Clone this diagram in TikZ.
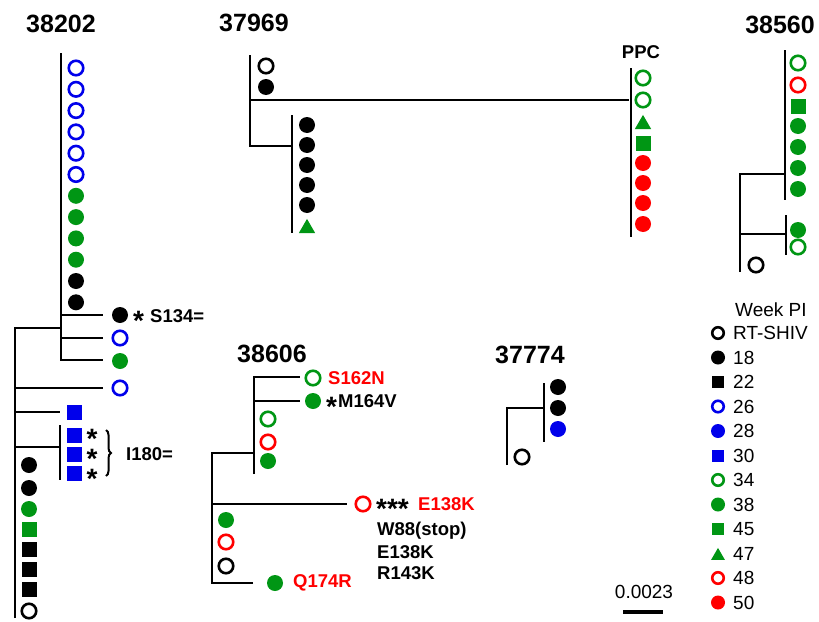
\documentclass[tikz,border=0pt]{standalone}
\usepackage{fontspec}
\setmainfont{Liberation Sans}
\usetikzlibrary{shapes.geometric, decorations.pathreplacing}

\definecolor{symblue}{RGB}{0,0,235}
\definecolor{symgreen}{RGB}{0,150,20}
\definecolor{symred}{RGB}{255,0,0}

\begin{document}
\begin{tikzpicture}[
    x=1pt, y=-1pt,
    every node/.style={inner sep=0pt},
    title/.style={font=\bfseries\fontsize{25}{25}\selectfont},
    mut/.style={anchor=west, font=\bfseries\fontsize{18.5}{20}\selectfont},
    legtext/.style={anchor=west, font=\fontsize{19}{20}\selectfont},
    star/.style={anchor=base west, font=\bfseries\fontsize{28}{19}\selectfont},
    branch/.style={line width=2.4pt},
    oc/.style={circle, draw=#1, line width=2.6pt, minimum size=14.5pt},
    fc/.style={circle, fill=#1, minimum size=16pt},
    fs/.style={rectangle, fill=#1, minimum size=15pt},
    ft/.style={regular polygon, regular polygon sides=3, fill=#1, minimum size=19pt, yshift=-2.4pt}
]
\useasboundingbox (0,0) rectangle (819,621);

% Tree 38202
\node[title] (t38202) at (61,24) {38202};
\draw[branch] (61,53) -- (61,360) -- (103,360);
\draw[branch] (61,315) -- (103,315);
\draw[branch] (61,338) -- (103,338);
\draw[branch] (15,618) -- (15,328) -- (61,328);
\draw[branch] (15,388) -- (103,388);
\draw[branch] (15,412) -- (60,412);
\draw[branch] (15,447) -- (60,447);
\draw[branch] (60,425) -- (60,480);
\foreach \i in {0,...,5} \node[oc=symblue] (a\i) at (76,{68+21.3*\i}) {};
\foreach \i in {6,...,9} \node[fc=symgreen] (a\i) at (76,{68+21.3*\i}) {};
\foreach \i in {10,11} \node[fc=black] (a\i) at (76,{68+21.3*\i}) {};
\node[fc=black] (b1) at (120,315) {};
\node[oc=symblue] (b2) at (120,338) {};
\node[fc=symgreen] (b3) at (120,361) {};
\node[oc=symblue] (b4) at (120,388) {};
\node[star] (b1star) at (133,330) {*};
\node[mut] (b1lab) at (150,316) {S134=};
\node[fs=symblue] (c0) at (74,412) {};
\foreach \y [count=\i] in {435,454,473} \node[fs=symblue] (c\i) at (74,\y) {};
\node[star, align=center, anchor=center] (cstars) at (92,459) {*\\*\\*};
\draw[decorate, decoration={brace, amplitude=5pt}, line width=2pt] (106,430) -- (106,476);
\node[mut] (clab) at (126,454) {I180=};
\node[fc=black] (d0) at (29,465) {};
\node[fc=black] (d1) at (29,488) {};
\node[fc=symgreen] (d2) at (29,509) {};
\node[fs=symgreen] (d3) at (29,529) {};
\foreach \y [count=\i from 4] in {549,569,589} \node[fs=black] (d\i) at (29,\y) {};
\node[oc=black] (d7) at (29,611) {};

% Tree 37969
\node[title] (t37969) at (254,23) {37969};
\draw[branch] (250,55) -- (250,146) -- (292,146);
\draw[branch] (250,100) -- (629,100);
\draw[branch] (292,115) -- (292,233);
\draw[branch] (631,68) -- (631,237);
\node[oc=black] (e0) at (266,66) {};
\node[fc=black] (e1) at (266,87) {};
\foreach \i in {0,...,4} \node[fc=black] (f\i) at (307,{125+20*\i}) {};
\node[ft=symgreen] (f5) at (307,226) {};
\node[mut, anchor=center] (ppc) at (641,52) {PPC};
\node[oc=symgreen] (g0) at (643,78) {};
\node[oc=symgreen] (g1) at (643,100) {};
\node[ft=symgreen] (g2) at (643,122) {};
\node[fs=symgreen] (g3) at (643,143) {};
\foreach \y [count=\i from 4] in {163,183,203,224} \node[fc=symred] (g\i) at (643,\y) {};

% Tree 38560
\node[title] (t38560) at (780,25) {38560};
\draw[branch] (785,50) -- (785,200);
\draw[branch] (740,272) -- (740,174) -- (785,174);
\draw[branch] (740,234) -- (786,234);
\draw[branch] (786,215) -- (786,255);
\node[oc=symgreen] (h0) at (798,63) {};
\node[oc=symred] (h1) at (798,85) {};
\node[fs=symgreen] (h2) at (798,106) {};
\foreach \y [count=\i from 3] in {126,147,168,189} \node[fc=symgreen] (h\i) at (798,\y) {};
\node[fc=symgreen] (h7) at (798,230) {};
\node[oc=symgreen] (h8) at (798,247) {};
\node[oc=black] (h9) at (756,265) {};

% Tree 38606
\node[title] (t38606) at (272,354) {38606};
\draw[branch] (253,583) -- (212,583) -- (212,453) -- (254,453);
\draw[branch] (254,474) -- (254,377) -- (300,377);
\draw[branch] (254,401) -- (300,401);
\draw[branch] (212,504) -- (347,504);
\node[oc=symgreen] (k0) at (313,378) {};
\node[mut, symred] (k0lab) at (328,378) {S162N};
\node[fc=symgreen] (k1) at (313,401) {};
\node[star] (k1star) at (326,416) {*};
\node[mut] (k1lab) at (338,401) {M164V};
\node[oc=symgreen] (k2) at (268,419) {};
\node[oc=symred] (k3) at (268,442) {};
\node[fc=symgreen] (k4) at (268,461) {};
\node[oc=symred] (k5) at (363,504) {};
\node[star] (k5star) at (376,518) {***};
\node[mut, symred] (k5lab) at (418,504) {E138K};
\node[mut] (k5a) at (377,531) {W88(stop)};
\node[mut] (k5b) at (377,552) {E138K};
\node[mut] (k5c) at (377,573) {R143K};
\node[fc=symgreen] (k6) at (226,520) {};
\node[oc=symred] (k7) at (226,542) {};
\node[oc=black] (k8) at (226,566) {};
\node[fc=symgreen] (k9) at (275,583) {};
\node[mut, symred] (k9lab) at (293,583) {Q174R};

% Tree 37774
\node[title] (t37774) at (530,355) {37774};
\draw[branch] (544,383) -- (544,442);
\draw[branch] (507,465) -- (507,408) -- (544,408);
\node[fc=black] (m0) at (558,387) {};
\node[fc=black] (m1) at (558,408) {};
\node[fc=symblue] (m2) at (558,429) {};
\node[oc=black] (m3) at (522,457) {};

% Legend
\node[legtext] (legtitle) at (735,310) {Week PI};
\foreach \st/\c/\sz/\t [count=\i from 0] in {
    oc/black/11.5/RT-SHIV, fc/black/14/18, fs/black/12/22,
    oc/symblue/11.5/26, fc/symblue/14/28, fs/symblue/12/30,
    oc/symgreen/11.5/34, fc/symgreen/14/38, fs/symgreen/12/45,
    ft/symgreen/16/47, oc/symred/11.5/48, fc/symred/14/50} {
  \node[\st=\c, minimum size=\sz pt] (leg\i) at (718,{333+24.5*\i}) {};
  \node[legtext] (legl\i) at (733,{333+24.5*\i}) {\t};
}

% Scale bar
\node[legtext, anchor=center] (scalelab) at (644,592) {0.0023};
\coordinate (sbl) at (623,612);
\coordinate (sbr) at (663,612);
\draw[line width=3.5pt] (sbl) -- (sbr);

\end{tikzpicture}
\end{document}
